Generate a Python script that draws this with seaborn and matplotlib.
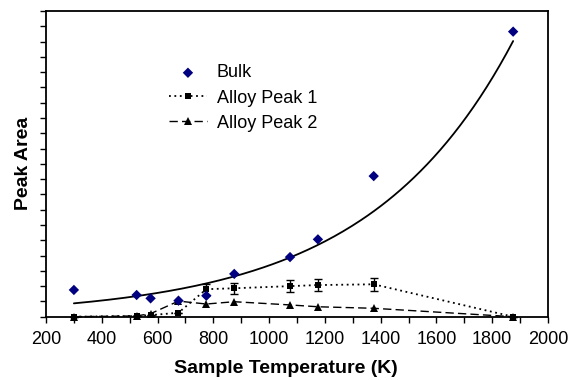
import numpy as np
import matplotlib
matplotlib.use("Agg")
import matplotlib.pyplot as plt
from matplotlib.ticker import MultipleLocator, NullFormatter
import seaborn as sns
import pandas as pd

# ---- data ----
temps = [300, 525, 575, 675, 775, 875, 1075, 1175, 1375, 1875]
bulk = [1.75, 1.42, 1.2, 1.05, 1.37, 2.8, 3.9, 5.06, 9.2, 18.65]
peak1 = [0.0, 0.05, 0.1, 0.26, 1.8, 1.86, 2.0, 2.07, 2.12, 0.0]
peak1_err = [0.0, 0.0, 0.0, 0.0, 0.36, 0.36, 0.4, 0.4, 0.44, 0.0]
peak2 = [0.0, 0.05, 0.2, 1.02, 0.83, 0.98, 0.77, 0.65, 0.55, 0.0]

sns.set_style("ticks")
plt.rcParams['font.family'] = ['Liberation Sans', 'DejaVu Sans']
plt.rcParams['text.color'] = 'black'
plt.rcParams['axes.labelcolor'] = 'black'
plt.rcParams['xtick.color'] = 'black'
plt.rcParams['ytick.color'] = 'black'

fig = plt.figure(figsize=(5.7, 3.8), dpi=100)
ax = fig.add_axes([46/570, 1-316.7/380, 502/570, 305.7/380])

df = pd.DataFrame({"T": temps, "bulk": bulk, "p1": peak1, "p2": peak2})

# exponential trendline fitted to bulk data
b, lna = np.polyfit(np.array(temps, float), np.log(bulk), 1)
tx = np.linspace(min(temps), max(temps), 200)
ax.plot(tx, np.exp(lna + b*tx), color='black', lw=1.3, zorder=2)

# Alloy peaks
ax.errorbar(temps, peak1, yerr=peak1_err, fmt='none', ecolor='black',
            elinewidth=1.0, capsize=3, capthick=1.0, zorder=3, clip_on=False)
sns.lineplot(data=df, x="T", y="p1", ax=ax, color='black', lw=1.3,
             linestyle=(0, (1, 2)), marker='s', markersize=5, markeredgewidth=0,
             label='Alloy Peak 1', zorder=4, clip_on=False)
sns.lineplot(data=df, x="T", y="p2", ax=ax, color='black', lw=1.0,
             linestyle=(0, (6, 3)), marker='^', markersize=6, markeredgewidth=0,
             label='Alloy Peak 2', zorder=4, clip_on=False)
sns.scatterplot(data=df, x="T", y="bulk", ax=ax, color='#000080', marker='D',
                s=28, edgecolor='none', label='Bulk', zorder=5, clip_on=False)

ax.set_xlim(200, 2000)
ax.set_ylim(0, 20)
ax.xaxis.set_major_locator(MultipleLocator(200))
ax.xaxis.set_minor_locator(MultipleLocator(100))
ax.yaxis.set_major_locator(MultipleLocator(1))
ax.yaxis.set_major_formatter(NullFormatter())
ax.tick_params(axis='both', which='both', direction='out', length=4, width=1,
               color='black', labelsize=13, labelcolor='black', pad=6)
for s in ax.spines.values():
    s.set_visible(True)
    s.set_linewidth(1.3)
    s.set_color('black')

ax.set_xlabel('Sample Temperature (K)', fontsize=14, fontweight='bold', color='black')
ax.set_ylabel('Peak Area', fontsize=14, fontweight='bold', color='black')
ax.xaxis.set_label_coords(0.478, -0.142)
ax.yaxis.set_label_coords(-0.027, 0.5)

handles, labels = ax.get_legend_handles_labels()
order = [labels.index('Bulk'), labels.index('Alloy Peak 1'), labels.index('Alloy Peak 2')]
leg = ax.legend([handles[i] for i in order], [labels[i] for i in order],
                loc='upper left', bbox_to_anchor=(0.245, 0.825), frameon=False,
                fontsize=13, borderpad=0, borderaxespad=0, handlelength=2.1,
                handletextpad=0.55, labelspacing=0.45)
for t in leg.get_texts():
    t.set_color('black')

fig.savefig('out.png', dpi=100)
